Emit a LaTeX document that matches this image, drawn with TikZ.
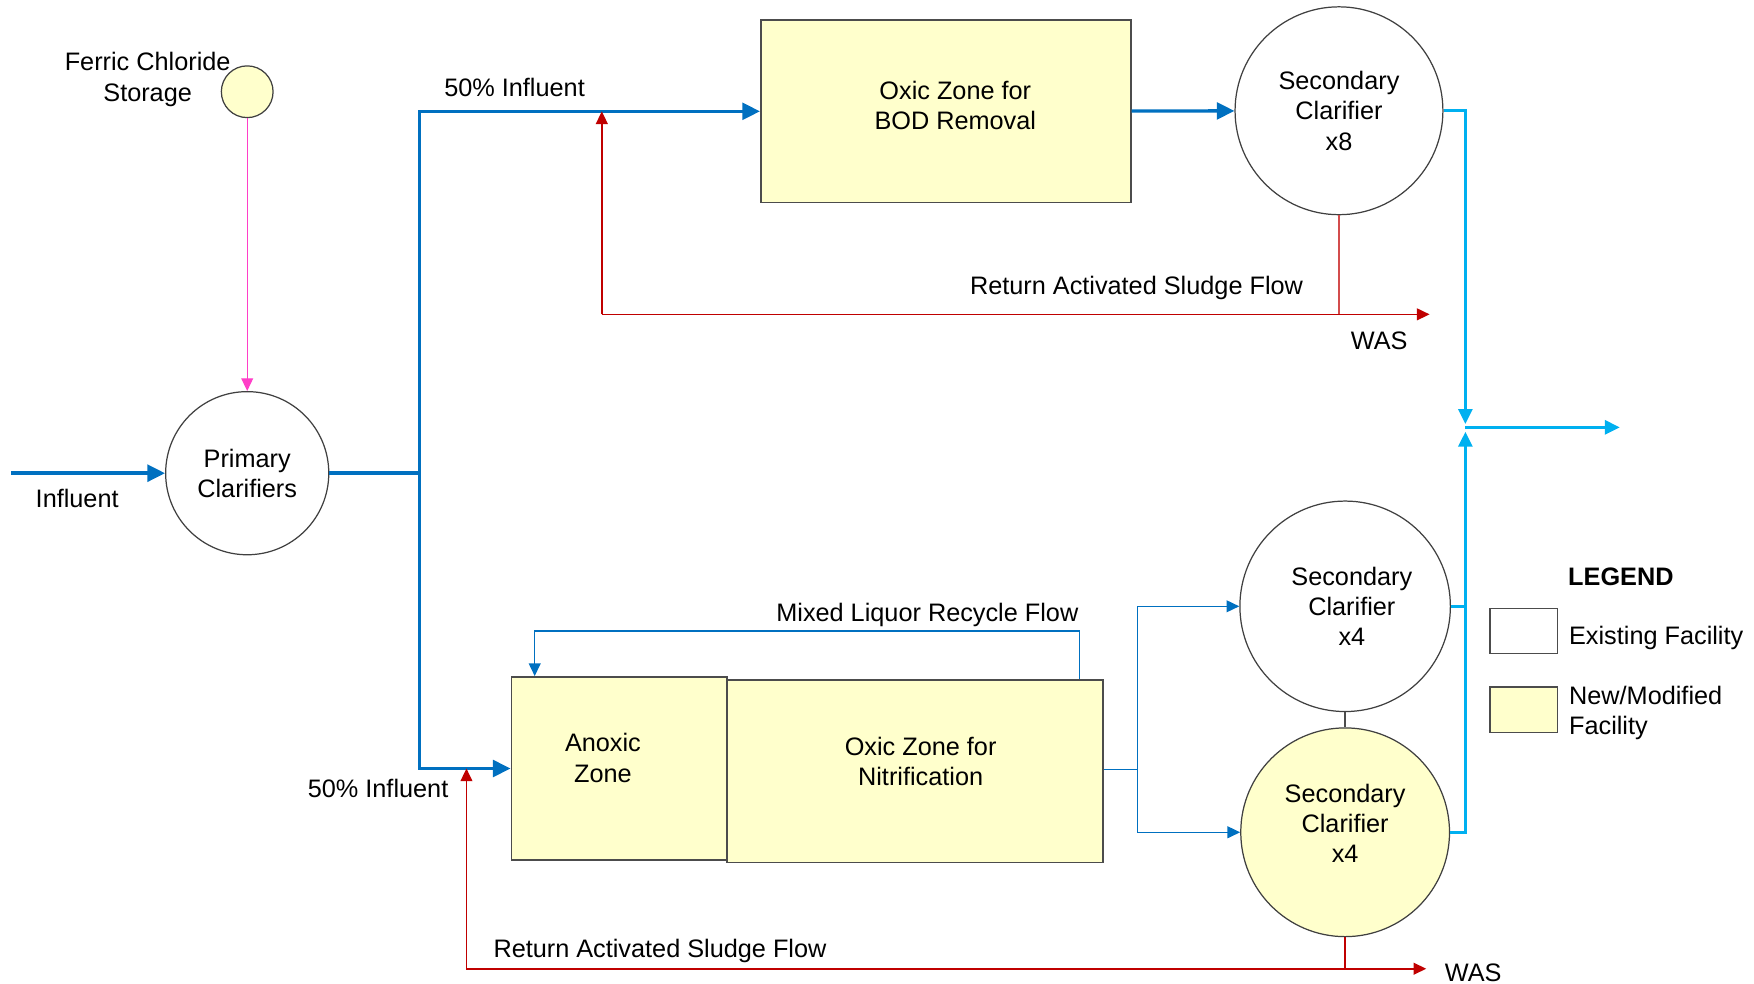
\documentclass[tikz,border=0pt]{standalone}
\usepackage{fontspec}
\setmainfont{Liberation Sans}
\usetikzlibrary{arrows.meta}
\definecolor{newfill}{HTML}{FFFFCC}
\definecolor{flowblue}{HTML}{0070C0}
\definecolor{effblue}{HTML}{00B0F0}
\definecolor{rasred}{HTML}{C00000}
\definecolor{chempink}{HTML}{FF3FC8}

\begin{document}
\begin{tikzpicture}[x=0.12755cm,y=-0.12755cm,
    font=\fontsize{8.2pt}{9.8pt}\selectfont,
    plant/.style={circle,draw=black!75,line width=0.4pt,inner sep=0pt,align=center},
    zone/.style={rectangle,draw=black!70,fill=newfill,line width=0.5pt,inner sep=0pt},
    txt/.style={align=center},
    mainline/.style={draw=flowblue,line width=1.1pt},
    effline/.style={draw=effblue,line width=0.9pt},
    recline/.style={draw=flowblue,line width=0.45pt},
    rasline/.style={draw=rasred,line width=0.5pt},
    bigtip/.style={-{Triangle[length=2mm,width=1.9mm]}},
    midtip/.style={-{Triangle[length=1.7mm,width=1.6mm]}},
    smalltip/.style={-{Triangle[length=1.45mm,width=1.35mm]}}]
    \useasboundingbox (0,0) rectangle (156.8,87.9);

    \node[plant,fill=newfill,minimum size=0.59cm] (fc) at (22.1,8.2) {};
    \node[txt] (fctxt) at (13.2,7.1) {Ferric Chloride\\Storage};
    \node[plant,minimum size=1.86cm] (pc) at (22.1,42.3) {Primary\\Clarifiers};

    \node[zone,minimum width=4.22cm,minimum height=2.08cm] (bod) at (84.55,9.95) {};
    \node[txt] (bodtxt) at (85.4,9.45) {Oxic Zone for\\BOD Removal};
    \node[plant,minimum size=2.37cm] (sc8) at (119.7,9.9) {Secondary\\Clarifier\\x8};

    \node[zone,minimum width=2.46cm,minimum height=2.09cm] (anox) at (55.35,68.7) {};
    \node[txt] (anoxtxt) at (53.9,67.75) {Anoxic\\Zone};
    \node[zone,minimum width=4.29cm,minimum height=2.08cm] (oxn) at (81.8,68.95) {};
    \node[txt] (oxntxt) at (82.3,68.05) {Oxic Zone for\\Nitrification};

    \node[plant,minimum size=2.4cm] (sc4a) at (120.25,54.2) {};
    \node[txt] (sc4atxt) at (120.85,54.2) {Secondary\\Clarifier\\x4};
    \node[plant,fill=newfill,minimum size=2.38cm] (sc4b) at (120.25,74.4) {};
    \node[txt] (sc4btxt) at (120.25,73.6) {Secondary\\Clarifier\\x4};

    \node[font=\fontsize{8.2pt}{9.8pt}\selectfont\bfseries] (leg) at (144.9,51.6) {LEGEND};
    \node[zone,fill=white,minimum width=0.77cm,minimum height=0.51cm] (legold) at (136.2,56.4) {};
    \node[zone,minimum width=0.77cm,minimum height=0.52cm] (legnew) at (136.2,63.45) {};
    \node[anchor=west] (legoldtxt) at (139.3,57.0) {Existing Facility};
    \node[anchor=west,align=left] (legnewtxt) at (139.3,63.75) {New/Modified\\Facility};

    \coordinate (inf) at (1.0,42.3);
    \coordinate (split) at (37.5,42.3);
    \draw[mainline,bigtip] (inf) -- (pc);
    \draw[mainline] (pc) -- (split);
    \draw[mainline,bigtip] (split) |- (bod);
    \draw[mainline,bigtip] (split) |- (anox);
    \draw[mainline,bigtip] (bod) -- (sc8);
    \node (inftxt) at (6.9,44.6) {Influent};
    \node (toptxt) at (46.0,7.8) {50\% Influent};
    \node (bottxt) at (33.8,70.5) {50\% Influent};

    \draw[draw=chempink,line width=0.4pt,smalltip] (fc) -- (pc);

    \coordinate (rasT) at (53.8,28.1);
    \coordinate (wasT) at (127.8,28.1);
    \draw[rasline,smalltip] (rasT) -- (wasT);
    \draw[rasline,smalltip] (rasT) -- (rasT |- bod.west);
    \draw[rasline,line width=0.35pt,draw=rasred!70] (sc8) -- (sc8 |- rasT);
    \node (rastxtT) at (101.6,25.7) {Return Activated Sludge Flow};
    \node (wastxtT) at (123.3,30.5) {WAS};

    \coordinate (mlrR) at (96.5,56.4);
    \coordinate (mlrL) at (47.8,56.4);
    \draw[recline,smalltip] (oxn.north -| mlrR) -- (mlrR) -- (mlrL) -- (anox.north -| mlrL);
    \node (mlrtxt) at (82.9,55.0) {Mixed Liquor Recycle Flow};

    \coordinate (split2) at (101.7,68.8);
    \draw[recline] (oxn.east |- split2) -- (split2);
    \draw[recline,smalltip] (split2) |- (sc4a);
    \draw[recline,smalltip] (split2) |- (sc4b);
    \draw[draw=black!70,line width=0.5pt] (sc4a) -- (sc4b);

    \coordinate (join) at (131.0,38.2);
    \coordinate (joinA) at (131.0,37.9);
    \coordinate (joinB) at (131.0,38.6);
    \coordinate (out) at (144.8,38.2);
    \draw[effline,midtip] (sc8) -| (joinA);
    \draw[effline,midtip] (sc4b) -| (joinB);
    \draw[effline] (sc4a) -- (sc4a -| join);
    \draw[effline,midtip] (join) -- (out);

    \coordinate (rasB) at (41.7,86.6);
    \coordinate (wasB) at (127.5,86.6);
    \draw[rasline,smalltip] (rasB) -- (wasB);
    \draw[rasline,smalltip] (rasB) -- (rasB |- anox.west);
    \draw[rasline] (sc4b) -- (sc4b |- rasB);
    \node (rastxtB) at (59.0,85.0) {Return Activated Sludge Flow};
    \node (wastxtB) at (131.7,87.0) {WAS};
\end{tikzpicture}
\end{document}
